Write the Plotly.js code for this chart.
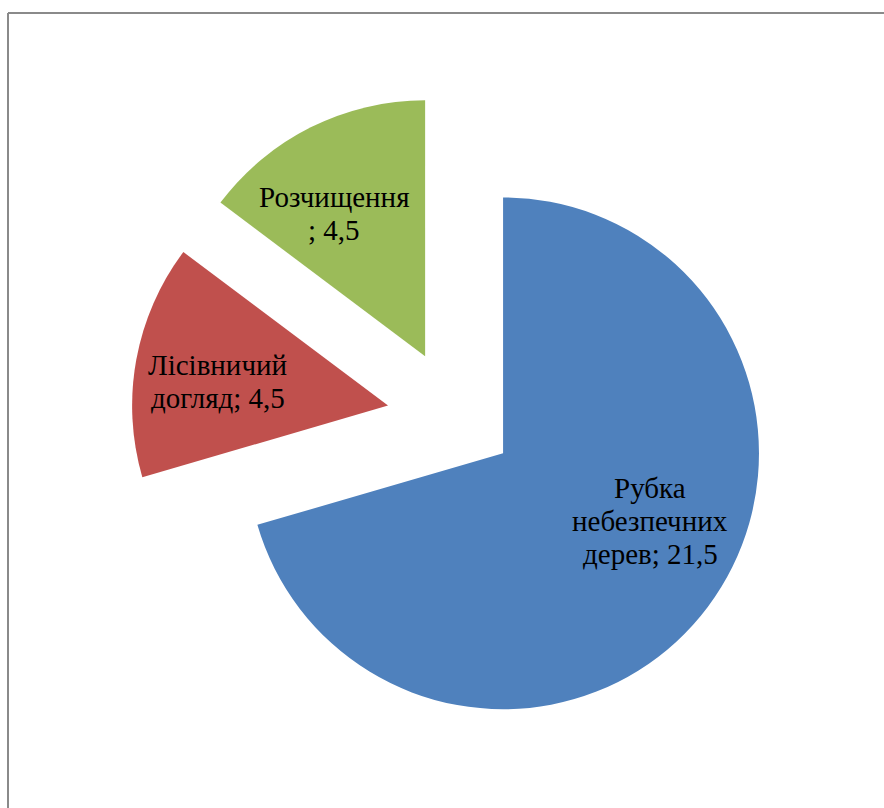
<!DOCTYPE html>
<html>
<head>
<meta charset="utf-8">
<script src="https://cdn.plot.ly/plotly-3.0.1.min.js"></script>
<style>html,body{margin:0;padding:0;background:#fff;}#chart{width:884px;height:808px;}</style>
</head>
<body>
<div id="chart"></div>
<script>
const categories = ["Рубка небезпечних дерев", "Лісівничий догляд", "Розчищення"];
const values = [21.5, 4.5, 4.5];
const valueLabels = ["21,5", "4,5", "4,5"];
const labelLines = [["Рубка", "небезпечних", "дерев; "], ["Лісівничий", "догляд; "], ["Розчищення", "; "]];
const colors = ["#4F81BD", "#C0504D", "#9BBB59"];
const pulls = [0.23, 0.27, 0.27];

// label placement tweaks (fraction of radius from the pulled apex, angle shift in degrees)
const labelRadius = [0.633, 0.671, 0.661];
const labelAngleShift = [-12.1, -2.4, -6.2];
const lineStep = 33;
const fontSize = 29;

const W = 884, H = 808;
const dom = {x: [131 / W, 781 / W], y: [1 - 743 / H, 1 - 93 / H]};

const trace = {
  type: "pie",
  labels: categories,
  values: values,
  textinfo: "none",
  marker: {colors: colors, line: {width: 0}},
  sort: false,
  direction: "clockwise",
  rotation: 0,
  pull: pulls,
  domain: dom,
  showlegend: false,
  hoverinfo: "none"
};

// geometry of the pie as Plotly lays it out
const wPx = (dom.x[1] - dom.x[0]) * W, hPx = (dom.y[1] - dom.y[0]) * H;
const maxPull = Math.max(...pulls);
const rPx = Math.min(wPx, hPx) / 2 / (1 + maxPull);
const cx = (dom.x[0] + dom.x[1]) / 2 * W;
const cy = (1 - (dom.y[0] + dom.y[1]) / 2) * H;
const total = values.reduce((a, b) => a + b, 0);

const annotations = [];
let cum = 0;
values.forEach((v, i) => {
  const mid = (cum + v / 2) / total * 360;
  cum += v;
  const a = mid * Math.PI / 180;
  const ax = cx + pulls[i] * rPx * Math.sin(a);
  const ay = cy - pulls[i] * rPx * Math.cos(a);
  const b = (mid + labelAngleShift[i]) * Math.PI / 180;
  const lx = ax + labelRadius[i] * rPx * Math.sin(b);
  const ly = ay - labelRadius[i] * rPx * Math.cos(b);
  const lines = labelLines[i].slice();
  lines[lines.length - 1] += valueLabels[i];
  const n = lines.length;
  lines.forEach((t, j) => {
    const y = ly + (j - (n - 1) / 2) * lineStep;
    annotations.push({
      xref: "paper", yref: "paper",
      x: lx / W, y: 1 - y / H,
      xanchor: "center", yanchor: "middle",
      showarrow: false,
      text: t,
      font: {family: "Liberation Serif, Times New Roman, serif", size: fontSize, color: "#000"}
    });
  });
});

const layout = {
  width: W,
  height: H,
  margin: {l: 0, r: 0, t: 0, b: 0},
  paper_bgcolor: "#fff",
  showlegend: false,
  annotations: annotations,
  shapes: [
    {type: "line", xref: "paper", yref: "paper", x0: 8 / W, x1: 1, y0: 1 - 13 / H, y1: 1 - 13 / H, line: {color: "#8a8a8a", width: 2}},
    {type: "line", xref: "paper", yref: "paper", x0: 8 / W, x1: 8 / W, y0: 0, y1: 1 - 13 / H, line: {color: "#8a8a8a", width: 2}}
  ]
};

Plotly.newPlot("chart", [trace], layout, {displayModeBar: false, staticPlot: true});
</script>
</body>
</html>
